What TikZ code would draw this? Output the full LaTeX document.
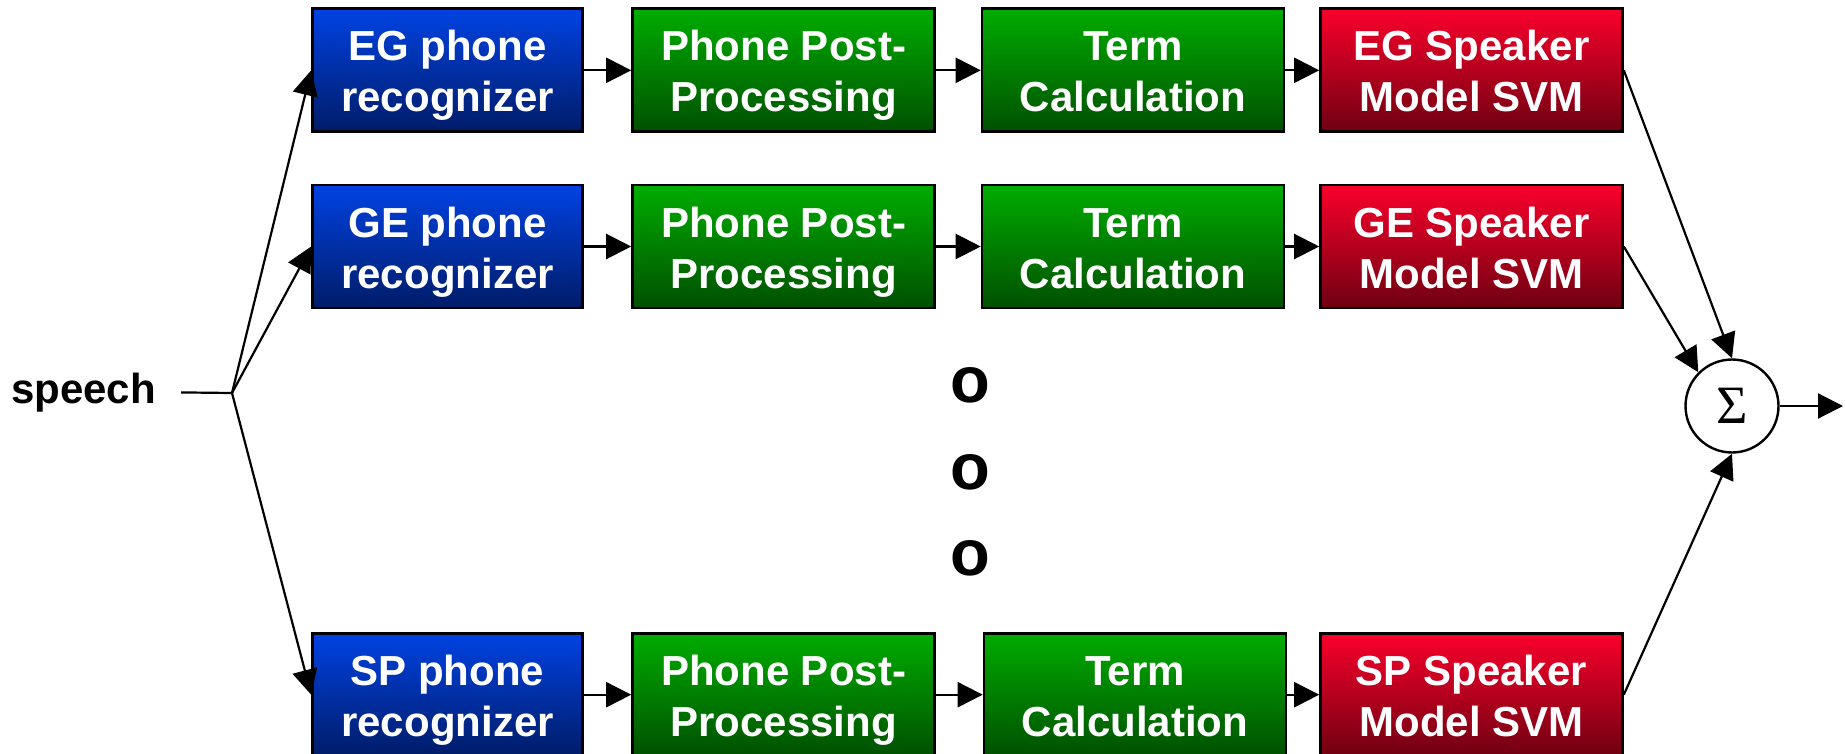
\documentclass[tikz,border=0pt]{standalone}
\usepackage{fontspec}
\setmainfont{Liberation Sans}
\newfontfamily\sigmafont{Liberation Serif}
\usetikzlibrary{arrows.meta}

\definecolor{blueTop}{RGB}{0,66,226}
\definecolor{blueBot}{RGB}{0,28,104}
\definecolor{greenTop}{RGB}{0,172,0}
\definecolor{greenBot}{RGB}{0,80,0}
\definecolor{redTop}{RGB}{250,0,44}
\definecolor{redBot}{RGB}{110,0,16}

% two centred lines with fixed struts, so every box places its text alike
\newcommand\boxlines[2]{\rule{0pt}{42pt}#1\\#2\rule[-10pt]{0pt}{10pt}}

\begin{document}
\begin{tikzpicture}[x=1pt,y=-1pt,
  stagebox/.style={draw=black, line width=2.6pt, minimum height=123pt,
    inner sep=0pt, align=center, text=white,
    font=\fontsize{42}{51}\selectfont\bfseries},
  recbox/.style={stagebox, top color=blueTop, bottom color=blueBot, minimum width=270pt},
  procbox/.style={stagebox, top color=greenTop, bottom color=greenBot, minimum width=302pt},
  svmbox/.style={stagebox, top color=redTop, bottom color=redBot, minimum width=302pt},
  sumnode/.style={draw=black, circle, line width=2.4pt, minimum size=93pt, inner sep=0pt,
    font=\fontsize{54}{60}\sigmafont},
  dotmark/.style={inner sep=0pt, font=\fontsize{65}{70}\selectfont\bfseries},
  link/.style={line width=2.2pt, -{Triangle[length=25pt,width=25pt]}},
  plain/.style={line width=2.2pt},
]
\useasboundingbox (0,0) rectangle (1845,754);

% first branch
\node[recbox]  (eg1) at (447.5,70.3) {\boxlines{EG phone}{recognizer}};
\node[procbox] (eg2) at (783.5,70.3) {\boxlines{Phone Post-}{Processing}};
\node[procbox] (eg3) at (1133,70.3) {\boxlines{Term}{Calculation}};
\node[svmbox]  (eg4) at (1471.5,70.3) {\boxlines{EG Speaker}{Model SVM}};

% second branch
\node[recbox]  (ge1) at (447.5,246.5) {\boxlines{GE phone}{recognizer}};
\node[procbox] (ge2) at (783.5,246.5) {\boxlines{Phone Post-}{Processing}};
\node[procbox] (ge3) at (1133,246.5) {\boxlines{Term}{Calculation}};
\node[svmbox]  (ge4) at (1471.5,246.5) {\boxlines{GE Speaker}{Model SVM}};

% last branch
\node[recbox]  (sp1) at (447.5,694.7) {\boxlines{SP phone}{recognizer}};
\node[procbox] (sp2) at (783.5,694.7) {\boxlines{Phone Post-}{Processing}};
\node[procbox] (sp3) at (1135,694.7) {\boxlines{Term}{Calculation}};
\node[svmbox]  (sp4) at (1471.5,694.7) {\boxlines{SP Speaker}{Model SVM}};

% ellipsis between branches
\node[dotmark] (d1) at (970.5,385.5) {o};
\node[dotmark] (d2) at (970.5,472) {o};
\node[dotmark] (d3) at (970.5,558.5) {o};

% input and fan-out
\node[inner sep=0pt, anchor=base, font=\fontsize{42}{51}\selectfont\bfseries] (speech) at (83.5,403) {speech};
\coordinate (split) at (232,393);
\draw[plain, shorten <=25pt] (speech.east) -- (split);
\draw[link] (split) -- (eg1.west);
\draw[link] (split) -- (ge1.west);
\draw[link] (split) -- (sp1.west);

% chains
\foreach \r in {eg,ge,sp}{
  \draw[link] (\r1.east) -- (\r2.west);
  \draw[link] (\r2.east) -- (\r3.west);
  \draw[link] (\r3.east) -- (\r4.west);
}

% score fusion
\node[sumnode] (sum) at (1732,406) {Σ};
\coordinate (out) at (1843,406);
\draw[link] (eg4.east) -- (sum.north);
\draw[link] (ge4.east) -- (sum.135);
\draw[link] (sp4.east) -- (sum.south);
\draw[link] (sum.east) -- (out);
\end{tikzpicture}
\end{document}
